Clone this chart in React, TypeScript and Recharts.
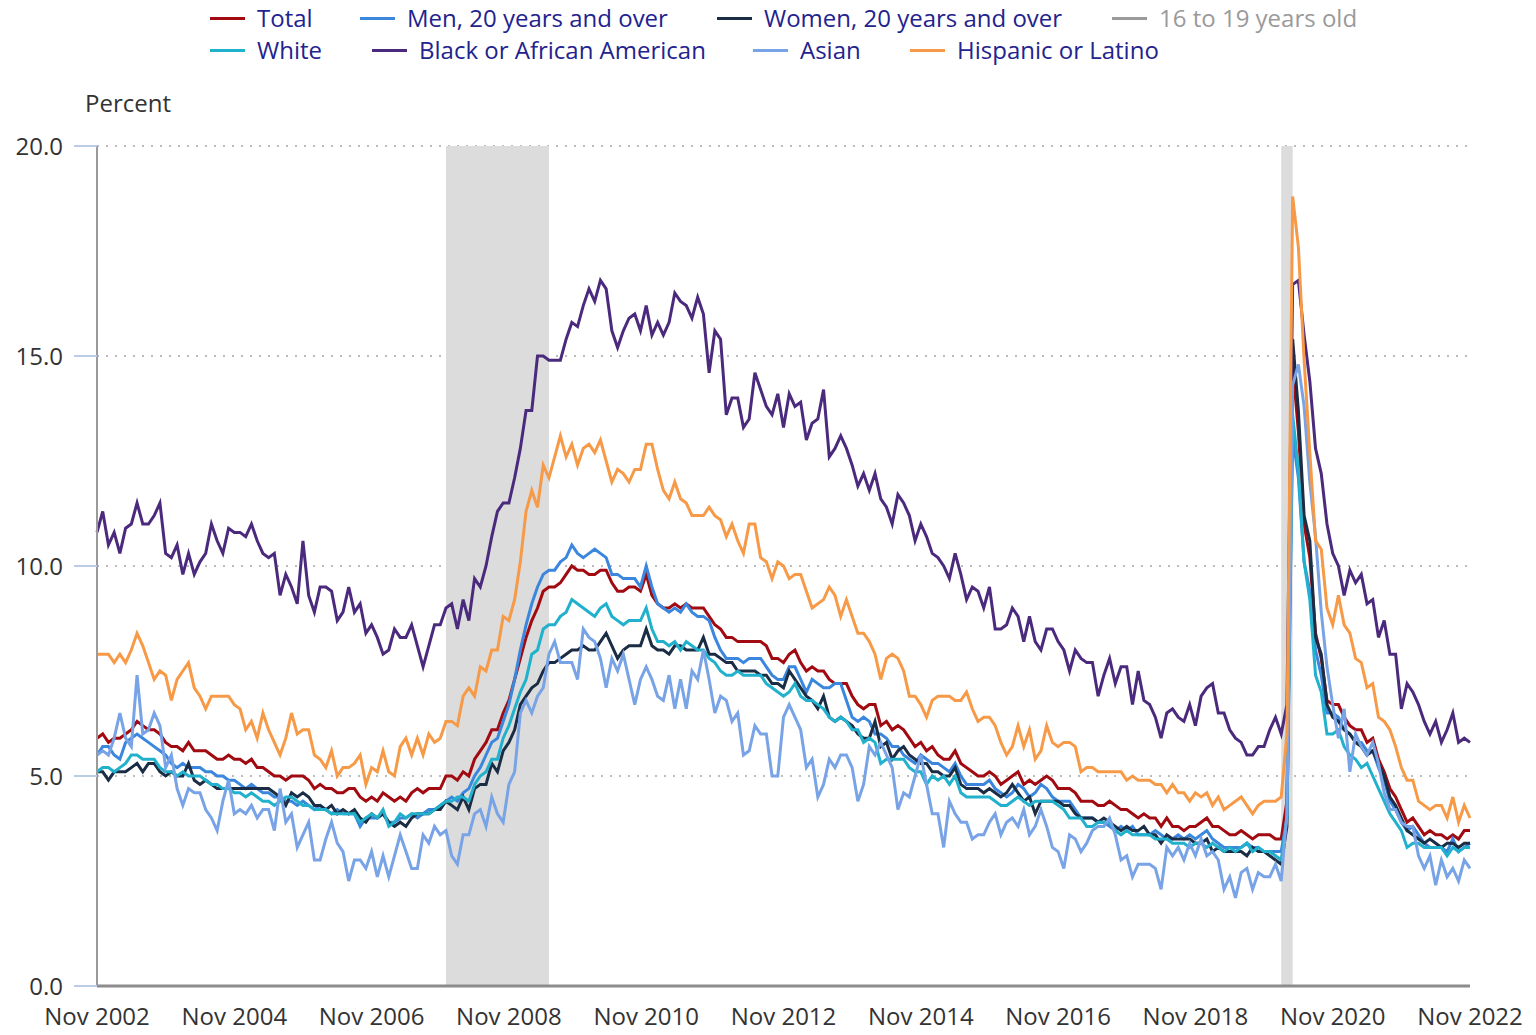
import React from "react";
import { LineChart, Line, XAxis, YAxis, CartesianGrid, ReferenceArea } from "recharts";

// Monthly index 0 = Nov 2002 ... 240 = Nov 2022
const tickIndex = [0, 24, 48, 72, 96, 120, 144, 168, 192, 216, 240];
const tickLabels = ["Nov 2002", "Nov 2004", "Nov 2006", "Nov 2008", "Nov 2010", "Nov 2012", "Nov 2014", "Nov 2016", "Nov 2018", "Nov 2020", "Nov 2022"];
const yTicks = [0, 5, 10, 15, 20];
const recessionStart = [61, 207];
const recessionEnd = [79, 209];

const total = [
  5.9, 6.0,
  5.8, 5.9, 5.9, 6.0, 6.1, 6.3, 6.2, 6.1, 6.1, 6.0, 5.8, 5.7,
  5.7, 5.6, 5.8, 5.6, 5.6, 5.6, 5.5, 5.4, 5.4, 5.5, 5.4, 5.4,
  5.3, 5.4, 5.2, 5.2, 5.1, 5.0, 5.0, 4.9, 5.0, 5.0, 5.0, 4.9,
  4.7, 4.8, 4.7, 4.7, 4.6, 4.6, 4.7, 4.7, 4.5, 4.4, 4.5, 4.4,
  4.6, 4.5, 4.4, 4.5, 4.4, 4.6, 4.7, 4.6, 4.7, 4.7, 4.7, 5.0,
  5.0, 4.9, 5.1, 5.0, 5.4, 5.6, 5.8, 6.1, 6.1, 6.5, 6.8, 7.3,
  7.8, 8.3, 8.7, 9.0, 9.4, 9.5, 9.5, 9.6, 9.8, 10.0, 9.9, 9.9,
  9.8, 9.8, 9.9, 9.9, 9.6, 9.4, 9.4, 9.5, 9.5, 9.4, 9.8, 9.3,
  9.1, 9.0, 9.0, 9.1, 9.0, 9.1, 9.0, 9.0, 9.0, 8.8, 8.6, 8.5,
  8.3, 8.3, 8.2, 8.2, 8.2, 8.2, 8.2, 8.1, 7.8, 7.8, 7.7, 7.9,
  8.0, 7.7, 7.5, 7.6, 7.5, 7.5, 7.3, 7.2, 7.2, 7.2, 6.9, 6.7,
  6.6, 6.7, 6.7, 6.2, 6.3, 6.1, 6.2, 6.1, 5.9, 5.7, 5.8, 5.6,
  5.7, 5.5, 5.4, 5.4, 5.6, 5.3, 5.2, 5.1, 5.0, 5.0, 5.1, 5.0,
  4.8, 4.9, 5.0, 5.1, 4.8, 4.9, 4.8, 4.9, 5.0, 4.9, 4.7, 4.7,
  4.7, 4.6, 4.4, 4.4, 4.4, 4.3, 4.3, 4.4, 4.3, 4.2, 4.2, 4.1,
  4.0, 4.1, 4.0, 4.0, 3.8, 4.0, 3.8, 3.8, 3.7, 3.8, 3.8, 3.9,
  4.0, 3.8, 3.8, 3.7, 3.6, 3.6, 3.7, 3.6, 3.5, 3.6, 3.6, 3.6,
  3.5, 3.5, 4.4, 14.8, 13.2, 11.0, 10.2, 8.4, 7.8, 6.8, 6.7, 6.7,
  6.4, 6.2, 6.1, 6.1, 5.8, 5.9, 5.4, 5.1, 4.7, 4.5, 4.2, 3.9,
  4.0, 3.8, 3.6, 3.7, 3.6, 3.6, 3.5, 3.6, 3.5, 3.7, 3.7,
];

const men = [
  5.5, 5.7, 5.7, 5.5, 5.4, 5.8, 5.9, 6.0, 5.9, 5.8, 5.7, 5.6, 5.5, 5.3, 5.2, 5.3, 5.2, 5.2, 5.2, 5.1, 5.1, 5.0, 5.0, 4.9, 4.9, 4.8, 4.7, 4.8, 4.7, 4.6, 4.6, 4.5, 4.5,
  4.4, 4.4, 4.3, 4.4, 4.3, 4.2, 4.3, 4.2, 4.1, 4.2, 4.1, 4.1, 4.1, 3.8, 4.0, 4.0, 4.0, 4.1, 3.9, 3.9, 4.0, 4.0, 4.1, 4.0, 4.1, 4.2, 4.2,
  4.3, 4.4, 4.5, 4.4, 4.6, 4.7, 5.0, 5.2, 5.5, 5.8, 5.9, 6.3, 6.7, 7.3, 8.0, 8.6, 9.1, 9.5, 9.8, 9.9, 9.9, 10.1, 10.2, 10.5, 10.3, 10.2, 10.3, 10.4,
  10.3, 10.2, 9.8, 9.8, 9.7, 9.7, 9.7, 9.5, 10.0, 9.5, 9.1, 9.0, 8.9, 9.0, 8.9, 9.1, 8.9, 8.8, 8.8, 8.7, 8.3, 8.0, 7.8, 7.8, 7.8, 7.7, 7.8, 7.8, 7.8, 7.6, 7.4, 7.3, 7.3, 7.6, 7.6, 7.3,
  7.0, 7.3, 7.2, 7.1, 7.1, 7.2, 7.2, 6.8, 6.4, 6.3, 6.4, 6.3, 6.0, 6.0, 5.9, 5.7, 5.7, 5.5, 5.4, 5.3, 5.5, 5.4, 5.3, 5.3, 5.2, 5.1, 5.3, 5.0, 4.8, 4.8, 4.8, 4.8, 4.9, 4.7, 4.6,
  4.5, 4.6, 4.8, 4.7, 4.5, 4.6, 4.8, 4.7, 4.5, 4.4, 4.4, 4.4, 4.2, 4.0, 4.0, 4.0, 3.9, 3.9, 3.8, 3.7, 3.8, 3.7, 3.8, 3.6, 3.6, 3.6, 3.7, 3.6, 3.5, 3.5, 3.6, 3.5, 3.6, 3.5,
  3.6, 3.7, 3.5, 3.4, 3.3, 3.3, 3.3, 3.3, 3.4, 3.3, 3.3, 3.2, 3.2, 3.2, 3.2, 4.0,
  13.1, 12.1, 10.1, 9.4, 8.0, 7.4, 6.5, 6.5, 6.4, 6.1, 6.0, 5.8, 5.8, 5.6, 5.6, 5.2, 4.9, 4.4, 4.2, 3.9, 3.7, 3.8, 3.6, 3.4, 3.3, 3.3, 3.3, 3.2, 3.5, 3.2, 3.3, 3.4,
];

const women = [
  5.1, 5.1, 4.9, 5.1, 5.1, 5.1, 5.2, 5.3, 5.1, 5.3, 5.3, 5.1, 5.0, 5.1, 5.0, 5.0, 5.3, 4.9, 4.8, 4.9, 4.8, 4.7, 4.7, 4.7, 4.7, 4.7, 4.7, 4.7, 4.7, 4.7, 4.7, 4.6, 4.5,
  4.3, 4.6, 4.5, 4.6, 4.5, 4.3, 4.3, 4.2, 4.3, 4.1, 4.2, 4.1, 4.2, 4.0, 3.9, 4.1, 4.0, 4.1, 3.9, 3.8, 3.9, 3.8, 4.0, 4.1, 4.1, 4.1, 4.2,
  4.2, 4.4, 4.3, 4.2, 4.5, 4.2, 4.7, 4.8, 4.8, 5.3, 5.1, 5.6, 5.8, 6.1, 6.7, 6.9, 7.1, 7.2, 7.5, 7.7, 7.7, 7.8, 7.9, 8.0, 8.0, 8.1, 8.0, 8.0,
  8.2, 8.4, 8.1, 7.8, 8.0, 8.1, 8.1, 8.1, 8.5, 8.1, 8.0, 8.0, 7.9, 8.1, 8.1, 8.0, 8.0, 8.0, 8.3, 7.9, 7.9, 7.8, 7.7, 7.7, 7.5, 7.5, 7.5, 7.5, 7.4, 7.4, 7.2, 7.2, 7.1,
  7.5, 7.3, 7.1, 6.9, 6.8, 6.6, 6.9, 6.4, 6.3, 6.4, 6.3, 6.2, 6.0, 5.9, 5.9, 6.3, 5.7, 5.8, 5.4, 5.6, 5.7, 5.5, 5.4, 5.3, 5.3, 5.1, 5.1, 5.0, 5.0, 5.2, 4.8, 4.7, 4.7, 4.7, 4.6, 4.7, 4.6, 4.5,
  4.6, 4.8, 4.6, 4.4, 4.5, 4.1, 4.4, 4.4, 4.4, 4.4, 4.3, 4.3, 4.1, 4.0, 4.0, 4.0, 3.9, 4.0, 3.9, 3.8, 3.7, 3.8, 3.7, 3.7, 3.8, 3.6, 3.6, 3.4, 3.6, 3.5, 3.5, 3.5, 3.5, 3.4,
  3.4, 3.5, 3.2, 3.3, 3.2, 3.2, 3.2, 3.2, 3.1, 3.3, 3.2, 3.2, 3.1, 3.0, 2.9, 3.8,
  15.4, 13.7, 11.2, 10.6, 8.3, 7.9, 6.7, 6.4, 6.3, 6.1, 6.0, 5.8, 5.7, 5.5, 5.6, 5.3, 5.0, 4.5, 4.3, 4.0, 3.7, 3.6, 3.5, 3.4, 3.5, 3.4, 3.3, 3.4, 3.4, 3.3, 3.4, 3.4,
];

const white = [
  5.1, 5.2, 5.2, 5.1, 5.2, 5.3, 5.5, 5.5, 5.4, 5.4, 5.4, 5.2, 5.1, 5.1, 5.0, 5.1, 5.0, 5.0, 5.0, 4.9, 4.8, 4.8, 4.7, 4.7, 4.6, 4.6, 4.5, 4.6, 4.5, 4.4, 4.4, 4.3, 4.4,
  4.5, 4.5, 4.4, 4.3, 4.3, 4.2, 4.2, 4.2, 4.1, 4.1, 4.1, 4.1, 4.1, 3.9, 4.0, 4.1, 4.0, 4.2, 3.8, 3.9, 4.1, 4.0, 4.1, 4.1, 4.1, 4.1, 4.2,
  4.3, 4.4, 4.4, 4.5, 4.5, 4.4, 4.8, 5.0, 5.1, 5.4, 5.4, 5.9, 6.2, 6.6, 7.0, 7.3, 7.9, 8.0, 8.5, 8.6, 8.6, 8.8, 8.9, 9.2, 9.1, 9.0, 8.9, 8.8,
  9.0, 9.1, 8.8, 8.7, 8.6, 8.7, 8.7, 8.7, 9.0, 8.5, 8.2, 8.2, 8.1, 8.2, 8.0, 8.2, 8.1, 8.0, 8.0, 7.8, 7.7, 7.5, 7.4, 7.4, 7.5, 7.4, 7.4, 7.4, 7.4, 7.2, 7.1, 7.0, 6.9,
  7.0, 7.2, 6.9, 6.8, 6.8, 6.7, 6.6, 6.4, 6.3, 6.4, 6.3, 6.1, 6.1, 5.8, 5.9, 5.8, 5.3, 5.4, 5.4, 5.4, 5.4, 5.2, 5.1, 5.1, 4.8, 5.0, 4.9, 5.0, 4.8, 5.0, 4.6, 4.5, 4.5, 4.5, 4.5, 4.5, 4.4, 4.3,
  4.3, 4.4, 4.5, 4.4, 4.3, 4.4, 4.4, 4.4, 4.4, 4.3, 4.2, 4.0, 4.0, 4.0, 3.8, 3.8, 3.9, 3.9, 3.9, 3.7, 3.6, 3.7, 3.6, 3.6, 3.6, 3.6, 3.5, 3.5, 3.5, 3.4, 3.4, 3.4, 3.3, 3.4,
  3.4, 3.3, 3.4, 3.3, 3.2, 3.3, 3.2, 3.3, 3.4, 3.2, 3.3, 3.2, 3.2, 3.1, 3.0, 4.0,
  13.6, 12.3, 10.1, 9.2, 7.4, 7.0, 6.0, 6.0, 6.1, 5.7, 5.5, 5.4, 5.2, 5.3, 5.0, 4.7, 4.4, 4.1, 3.9, 3.7, 3.3, 3.4, 3.4, 3.3, 3.3, 3.3, 3.3, 3.1, 3.3, 3.2, 3.3, 3.3,
];

const black = [
  10.8, 11.3, 10.5, 10.8, 10.3, 10.9, 11.0, 11.5, 11.0, 11.0, 11.2, 11.5, 10.3, 10.2, 10.5, 9.8, 10.3, 9.8, 10.1, 10.3, 11.0, 10.6, 10.3, 10.9, 10.8, 10.8, 10.7, 11.0, 10.6, 10.3, 10.2, 10.3, 9.3,
  9.8, 9.5, 9.1, 10.6, 9.3, 8.9, 9.5, 9.5, 9.4, 8.7, 8.9, 9.5, 8.9, 9.1, 8.4, 8.6, 8.3, 7.9, 8.0, 8.5, 8.3, 8.3, 8.6, 8.1, 7.6, 8.1, 8.6,
  8.6, 9.0, 9.1, 8.5, 9.2, 8.7, 9.7, 9.5, 10.0, 10.7, 11.3, 11.5, 11.5, 12.1, 12.8, 13.7, 13.7, 15.0, 15.0, 14.9, 14.9, 14.9, 15.4, 15.8, 15.7, 16.2, 16.6, 16.3,
  16.8, 16.6, 15.6, 15.2, 15.6, 15.9, 16.0, 15.6, 16.2, 15.5, 15.8, 15.5, 15.8, 16.5, 16.3, 16.2, 15.9, 16.4, 16.0, 14.6, 15.6, 15.4, 13.6, 14.0, 14.0, 13.3, 13.5, 14.6, 14.2, 13.8, 13.6, 14.1, 13.3, 14.1, 13.8, 13.9,
  13.0, 13.4, 13.5, 14.2, 12.6, 12.8, 13.1, 12.8, 12.4, 11.9, 12.2, 11.8, 12.2, 11.6, 11.4, 11.0, 11.7, 11.5, 11.2, 10.6, 11.0, 10.7, 10.3, 10.2, 10.0, 9.7, 10.3, 9.8, 9.2, 9.5, 9.4, 9.0, 9.5,
  8.5, 8.5, 8.6, 9.0, 8.8, 8.2, 8.8, 8.2, 8.0, 8.5, 8.5, 8.2, 8.0, 7.5, 8.0, 7.8, 7.7, 7.7, 6.9, 7.4, 7.8, 7.2, 7.6, 7.6, 6.7, 7.5, 6.8, 6.7, 6.4, 5.9, 6.5, 6.6, 6.4, 6.3, 6.7, 6.2, 6.9, 7.1, 7.2, 6.5, 6.5, 6.1, 5.9, 5.8, 5.5, 5.5, 5.7, 5.7, 6.1, 6.4, 6.0, 6.7,
  16.7, 16.8, 15.5, 14.4, 12.8, 12.2, 11.0, 10.3, 10.0, 9.3, 9.9, 9.6, 9.8, 9.1, 9.2, 8.3, 8.7, 7.9, 7.9, 6.6, 7.2, 7.0, 6.7, 6.3, 6.0, 6.3, 5.8, 6.1, 6.5, 5.8, 5.9, 5.8,
];

const asian = [
  5.5, 5.6, 5.5, 5.9, 6.5, 5.9, 5.7, 7.4, 6.0, 6.1, 6.5, 6.2, 5.2, 5.5, 4.7, 4.3, 4.7, 4.6, 4.6, 4.2, 4.0, 3.7, 4.4, 4.9, 4.1, 4.2, 4.1, 4.3, 4.0, 4.2, 4.2, 3.7, 4.7,
  3.9, 4.1, 3.3, 3.6, 3.9, 3.0, 3.0, 3.5, 3.9, 3.4, 3.2, 2.5, 3.0, 3.0, 2.8, 3.2, 2.6, 3.1, 2.6, 3.1, 3.6, 3.2, 2.8, 2.8, 3.6, 3.4, 3.8,
  3.6, 3.7, 3.1, 2.9, 3.6, 3.6, 4.1, 4.2, 3.8, 4.5, 4.1, 3.9, 4.8, 5.1, 6.5, 6.8, 6.5, 6.9, 7.1, 7.9, 8.2, 7.7, 7.7, 7.7, 7.3, 8.5, 8.3, 8.2,
  7.8, 7.1, 7.8, 7.5, 7.9, 7.3, 6.7, 7.3, 7.6, 7.3, 6.9, 6.8, 7.4, 6.6, 7.3, 6.6, 7.5, 7.3, 8.0, 7.3, 6.5, 6.9, 6.8, 6.3, 6.5, 5.5, 5.6, 6.2, 6.0, 6.0, 5.0, 5.0, 6.4,
  6.7, 6.4, 6.1, 5.2, 5.4, 4.5, 4.8, 5.4, 5.2, 5.5, 5.5, 5.2, 4.4, 4.8, 5.7, 5.5, 5.8, 5.5, 5.2, 4.2, 4.6, 4.5, 5.0, 5.5, 4.8, 4.1, 4.1, 3.3, 4.4, 4.1, 3.9, 3.9, 3.5, 3.6, 3.6, 3.9, 4.1, 3.6,
  3.9, 4.0, 3.8, 4.2, 3.6, 3.8, 4.2, 3.8, 3.3, 3.2, 2.8, 3.6, 3.5, 3.2, 3.4, 3.7, 3.8, 3.8, 4.0, 3.6, 3.0, 3.1, 2.6, 2.9, 2.9, 2.9, 2.8, 2.3, 3.3, 3.1, 3.3, 3.0, 3.4, 3.1,
  3.5, 3.1, 3.2, 3.0, 2.3, 2.6, 2.1, 2.7, 2.8, 2.3, 2.7, 2.6, 2.6, 2.9, 2.5, 4.1,
  14.3, 14.8, 13.8, 12.0, 10.7, 8.9, 7.6, 6.7, 5.9, 6.6, 5.1, 6.0, 5.7, 5.5, 5.8, 5.3, 4.6, 4.2, 4.2, 3.9, 3.8, 3.8, 3.1, 2.8, 3.1, 2.4, 3.0, 2.6, 2.8, 2.5, 3.0, 2.8,
];

const hispanic = [
  7.9, 7.9, 7.9, 7.7, 7.9, 7.7, 8.0, 8.4, 8.1, 7.7, 7.3, 7.5, 7.4, 6.8, 7.3, 7.5, 7.7, 7.1, 6.9, 6.6, 6.9, 6.9, 6.9, 6.9, 6.7, 6.6, 6.1, 6.3, 5.9, 6.5, 6.1, 5.8, 5.5,
  5.9, 6.5, 6.0, 6.1, 6.1, 5.5, 5.4, 5.2, 5.6, 5.0, 5.2, 5.2, 5.3, 5.5, 4.8, 5.2, 5.1, 5.6, 5.1, 5.0, 5.7, 5.9, 5.5, 5.9, 5.5, 6.0, 5.8,
  5.9, 6.3, 6.3, 6.2, 6.9, 7.1, 6.9, 7.6, 7.5, 8.0, 8.0, 8.8, 8.7, 9.2, 10.1, 11.3, 11.8, 11.4, 12.4, 12.1, 12.6, 13.1, 12.6, 12.9, 12.4, 12.8, 12.9, 12.7, 13.0, 12.5, 12.0, 12.3,
  12.2, 12.0, 12.3, 12.3, 12.9, 12.9, 12.3, 11.8, 11.6, 12.0, 11.6, 11.5, 11.2, 11.2, 11.2, 11.4, 11.2, 11.1, 10.7, 11.0, 10.6, 10.3, 11.0, 11.0, 10.2, 10.1, 9.7, 10.1, 10.0, 9.7, 9.8, 9.8,
  9.4, 9.0, 9.1, 9.2, 9.5, 9.3, 8.8, 9.2, 8.8, 8.4, 8.4, 8.2, 7.9, 7.3, 7.8, 7.9, 7.8, 7.5, 6.9, 6.9, 6.7, 6.4, 6.8, 6.9, 6.9, 6.9, 6.8, 6.8, 7.0, 6.6, 6.3, 6.4, 6.4,
  6.2, 5.8, 5.5, 5.7, 6.2, 5.7, 6.1, 5.4, 5.6, 6.2, 5.8, 5.7, 5.8, 5.8, 5.7, 5.1, 5.2, 5.2, 5.1, 5.1, 5.1, 5.1, 5.1, 4.9, 5.0, 4.9, 4.9, 4.9, 4.8, 4.8, 4.6, 4.8, 4.6, 4.6, 4.4, 4.6,
  4.5, 4.6, 4.3, 4.5, 4.2, 4.3, 4.4, 4.5, 4.3, 4.1, 4.3, 4.4, 4.4, 4.4, 4.5, 6.0,
  18.8, 17.6, 14.9, 12.7, 10.6, 10.4, 9.0, 8.6, 9.3, 8.6, 8.4, 7.8, 7.7, 7.1, 7.2, 6.4, 6.3, 6.1, 5.7, 5.2, 4.9, 4.9, 4.4, 4.3, 4.2, 4.3, 4.3, 4.0, 4.5, 3.9, 4.3, 4.0,
];

const series = [
  { key: "total", name: "Total", color: "#a00a10", values: total },
  { key: "men", name: "Men, 20 years and over", color: "#3a87dd", values: men },
  { key: "women", name: "Women, 20 years and over", color: "#1b2d44", values: women },
  { key: "white", name: "White", color: "#21b1cd", values: white },
  { key: "black", name: "Black or African American", color: "#4b2a7d", values: black },
  { key: "asian", name: "Asian", color: "#78a3e6", values: asian },
  { key: "hispanic", name: "Hispanic or Latino", color: "#f79a48", values: hispanic },
];

const legendRows = [
  [
    { name: "Total", color: "#a00a10", x: 210, active: true },
    { name: "Men, 20 years and over", color: "#3a87dd", x: 360, active: true },
    { name: "Women, 20 years and over", color: "#1b2d44", x: 717, active: true },
    { name: "16 to 19 years old", color: "#9a9a9a", x: 1112, active: false },
  ],
  [
    { name: "White", color: "#21b1cd", x: 210, active: true },
    { name: "Black or African American", color: "#4b2a7d", x: 372, active: true },
    { name: "Asian", color: "#78a3e6", x: 753, active: true },
    { name: "Hispanic or Latino", color: "#f79a48", x: 910, active: true },
  ],
];

const FONT = "'Open Sans', 'DejaVu Sans', sans-serif";

export default function App() {
  const data = total.map((v, i) => {
    const row: any = { i };
    series.forEach((s) => {
      row[s.key] = s.values[i];
    });
    return row;
  });

  return (
    <div style={{ position: "absolute", left: 0, top: 0, width: 1536, height: 1035, background: "#fff", fontFamily: FONT }}>
      <LineChart width={1536} height={1035} data={data} margin={{ top: 146, right: 66, bottom: 0, left: 0 }}>
        <CartesianGrid vertical={false} stroke="#bcbcbc" strokeWidth={2} strokeDasharray="2 7" />
        {recessionStart.map((s, k) => (
          <ReferenceArea key={"r" + k} x1={s} x2={recessionEnd[k]} fill="#dcdcdc" fillOpacity={1} stroke="none" />
        ))}
        <XAxis
          type="number"
          dataKey="i"
          domain={[0, 240]}
          ticks={tickIndex}
          interval={0}
          tickFormatter={(v: number) => tickLabels[tickIndex.indexOf(v)] ?? ""}
          height={49}
          tickLine={false}
          tickSize={0}
          tickMargin={22}
          axisLine={{ stroke: "#8c8c8c", strokeWidth: 3 }}
          tick={{ fill: "#333", fontSize: 24, fontFamily: FONT }}
        />
        <YAxis
          type="number"
          domain={[0, 20]}
          ticks={yTicks}
          width={97}
          interval={0}
          tickFormatter={(v: number) => v.toFixed(1)}
          tickSize={23}
          tickMargin={11}
          tickLine={{ stroke: "#b9cde6", strokeWidth: 2 }}
          axisLine={{ stroke: "#9a9a9a", strokeWidth: 2 }}
          tick={{ fill: "#333", fontSize: 24, fontFamily: FONT }}
        />
        {series.map((s) => (
          <Line
            key={s.key}
            type="linear"
            dataKey={s.key}
            name={s.name}
            stroke={s.color}
            strokeWidth={3}
            dot={false}
            activeDot={false}
            isAnimationActive={false}
          />
        ))}
      </LineChart>
      <div style={{ position: "absolute", left: 85, top: 87, fontSize: 24, lineHeight: "32px", color: "#333" }}>Percent</div>
      {legendRows.map((row, r) =>
        row.map((item) => (
          <div
            key={item.name}
            style={{
              position: "absolute",
              left: item.x,
              top: 2 + r * 32,
              height: 32,
              display: "flex",
              alignItems: "center",
              whiteSpace: "nowrap",
              fontSize: 24,
              lineHeight: "32px",
              color: item.active ? "#23238e" : "#9a9a9a",
            }}
          >
            <span style={{ display: "inline-block", width: 35, height: 3, background: item.color, marginRight: 12 }} />
            <span>{item.name}</span>
          </div>
        ))
      )}
    </div>
  );
}
